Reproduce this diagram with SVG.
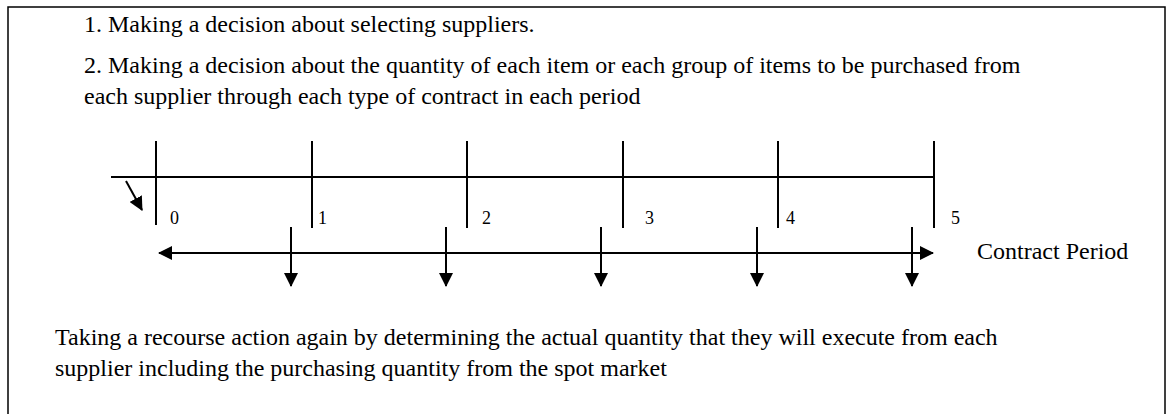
<svg xmlns="http://www.w3.org/2000/svg" width="1173" height="414" viewBox="0 0 1173 414">
<style>
.t{font-family:"Liberation Serif","Times New Roman",serif;font-size:24px;fill:#000}
.n{font-family:"Liberation Serif","Times New Roman",serif;font-size:18px;fill:#000}
.l{stroke:#000;stroke-width:2;fill:none}
</style>
<defs>
<marker id="ah" viewBox="0 0 14 14" refX="13" refY="7" markerWidth="14" markerHeight="14" markerUnits="userSpaceOnUse" orient="auto-start-reverse">
<path d="M0,0 L14,7 L0,14 Z" fill="#000"/>
</marker>
</defs>
<rect x="8" y="7" width="1157" height="420" fill="#fff" stroke="#000" stroke-width="1.5"/>
<g id="decisions">
<text class="t" x="84" y="32">1. Making a decision about selecting suppliers.</text>
<text class="t" x="84" y="73">2. Making a decision about the quantity of each item or each group of items to be purchased from</text>
<text class="t" x="84" y="104">each supplier through each type of contract in each period</text>
</g>
<g id="timeline">
<line class="l" x1="111" y1="177" x2="934" y2="177"/>
<line class="l" x1="156" y1="141" x2="156" y2="225"/>
<line class="l" x1="312" y1="141" x2="312" y2="228"/>
<line class="l" x1="467" y1="141" x2="467" y2="228"/>
<line class="l" x1="623" y1="141" x2="623" y2="228"/>
<line class="l" x1="778" y1="141" x2="778" y2="228"/>
<line class="l" x1="934" y1="141" x2="934" y2="228"/>
<text class="n" x="170" y="224">0</text>
<text class="n" x="318" y="224">1</text>
<text class="n" x="482" y="224">2</text>
<text class="n" x="645" y="224">3</text>
<text class="n" x="786" y="224">4</text>
<text class="n" x="951" y="224">5</text>
</g>
<g id="contract-period">
<text class="t" x="977" y="259">Contract Period</text>
</g>
<g id="recourse">
<text class="t" x="55" y="345">Taking a recourse action again by determining the actual quantity that they will execute from each</text>
<text class="t" x="55" y="376">supplier including the purchasing quantity from the spot market</text>
</g>
<g id="connectors">
<line class="l" x1="126" y1="181" x2="142" y2="210" marker-end="url(#ah)"/>
<line class="l" x1="159" y1="253" x2="933" y2="253" marker-start="url(#ah)" marker-end="url(#ah)"/>
<line class="l" x1="291" y1="227" x2="291" y2="286" marker-end="url(#ah)"/>
<line class="l" x1="446" y1="227" x2="446" y2="286" marker-end="url(#ah)"/>
<line class="l" x1="601" y1="227" x2="601" y2="286" marker-end="url(#ah)"/>
<line class="l" x1="757" y1="227" x2="757" y2="286" marker-end="url(#ah)"/>
<line class="l" x1="912" y1="227" x2="912" y2="286" marker-end="url(#ah)"/>
</g>
</svg>
